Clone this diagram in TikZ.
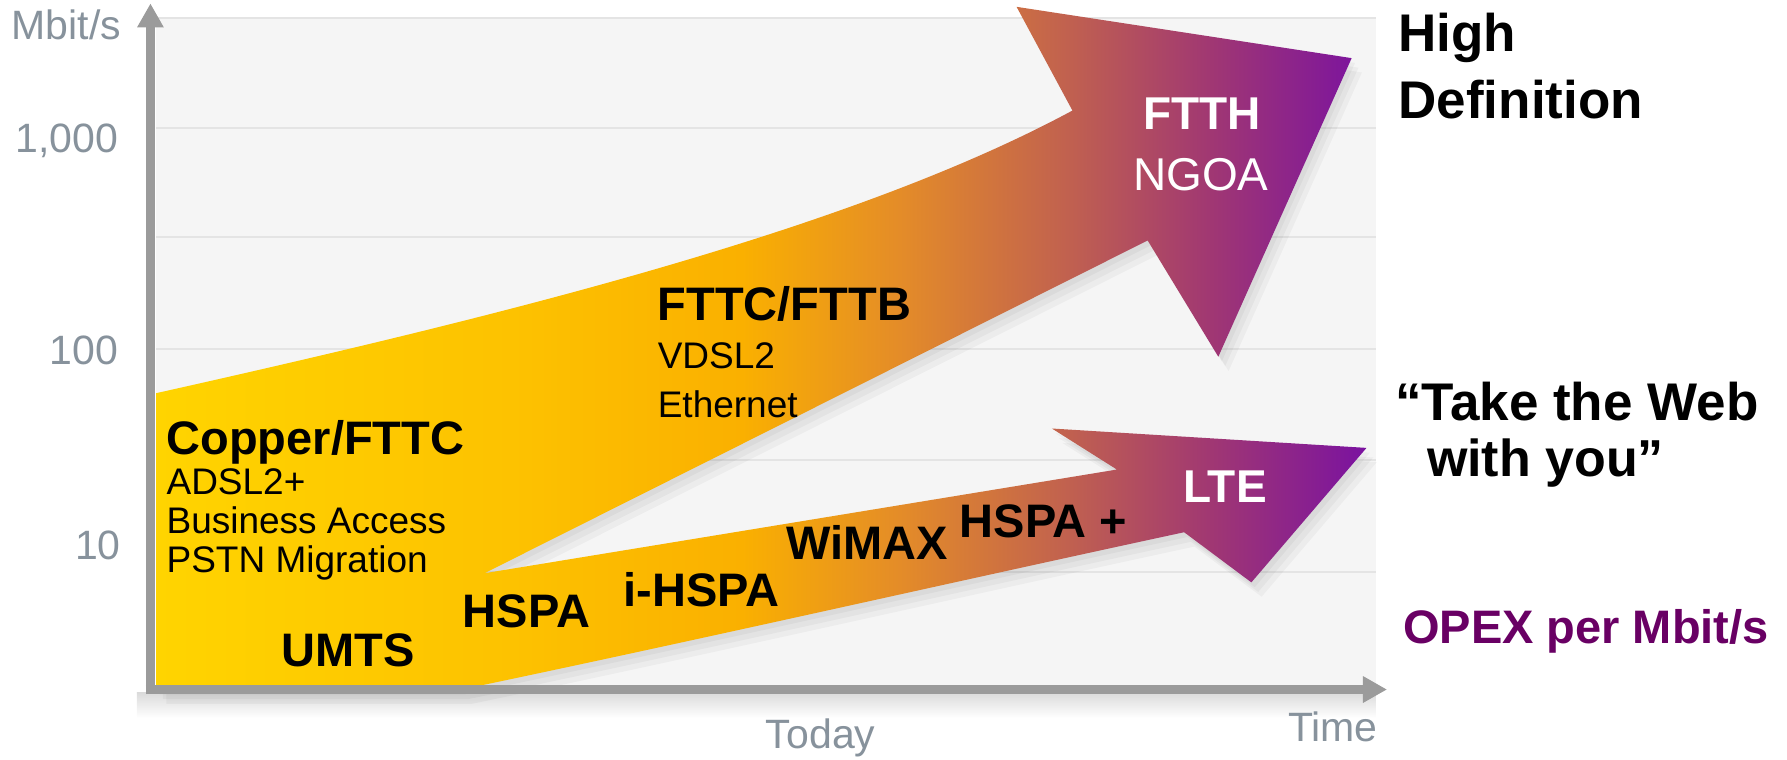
\documentclass[tikz,border=0pt]{standalone}
\usepackage{fontspec}
\setmainfont{Liberation Sans}
\usetikzlibrary{arrows.meta}

\definecolor{axisgray}{RGB}{155,155,155}
\definecolor{labelgray}{RGB}{135,146,156}
\definecolor{opexpurple}{RGB}{105,0,100}
\definecolor{chartbg}{RGB}{245,245,245}
\definecolor{gridgray}{RGB}{228,228,228}

% colour stops of the technology band, left (yellow) to right (purple)
\definecolor{sh0}{RGB}{255,212,0}
\definecolor{sh1}{RGB}{253,194,0}
\definecolor{sh2}{RGB}{250,176,0}
\definecolor{sh3}{RGB}{228,140,40}
\definecolor{sh4}{RGB}{192,96,80}
\definecolor{sh5}{RGB}{160,55,115}
\definecolor{sh6}{RGB}{122,18,160}
\pgfdeclarehorizontalshading{speedband}{100bp}{color(0bp)=(sh0); color(25bp)=(sh0);
  color(39.7bp)=(sh1); color(49.2bp)=(sh2); color(55.7bp)=(sh3);
  color(62.8bp)=(sh4); color(68.6bp)=(sh5); color(75bp)=(sh6); color(100bp)=(sh6)}

% outline of the two growth arrows (fixed line upper, mobile lower)
\def\speedbandpath{(137,345) .. controls (450,275) and (750,200) .. (941,97)
  -- (892,6) -- (1186,51) -- (1069,313) -- (1007,211) -- (425,503)
  -- (980,412) -- (923,376) -- (1199,393) -- (1098,511) -- (1039,467)
  .. controls (830,512) and (620,560) .. (405,605) -- (137,605) -- cycle}

\tikzset{
  axisline/.style={draw=axisgray, line width=8.5pt, -{Triangle[length=24pt,width=25pt]}},
  axislabel/.style={inner sep=0pt, text=labelgray, font=\fontsize{41}{44}\selectfont},
  techbold/.style={inner sep=0pt, font=\bfseries\fontsize{47}{50}\selectfont},
  techplain/.style={inner sep=0pt, font=\fontsize{37}{39}\selectfont},
  headbold/.style={inner sep=0pt, text=white, font=\bfseries\fontsize{46}{49}\selectfont},
  headplain/.style={inner sep=0pt, text=white, font=\fontsize{46}{49}\selectfont},
  sidenote/.style={inner sep=0pt, font=\bfseries\fontsize{53}{56}\selectfont},
}

\begin{document}
\begin{tikzpicture}[x=1.1397pt, y=-1.1397pt]
\useasboundingbox (0,0) rectangle (1568,666);

% chart background with horizontal grid bands
\fill[chartbg] (137,16) rectangle (1207,605);
\draw[gridgray, line width=2pt] (137,16) -- (1207,16);
\foreach \gy in {112,208,306,404,502}
  \draw[gridgray, line width=2pt] (137,\gy) -- (1207,\gy);
\shade[top color=gray!28, bottom color=white] (120,608) rectangle (1207,630);

% soft shadow under the arrows
\foreach \s in {3,6,9}
  \fill[black, opacity=0.035, shift={(\s,1.4*\s)}] \speedbandpath;

% the growth arrows
\shade[shading=speedband] \speedbandpath;

% axes
\coordinate (origin) at (132,605);
\coordinate (ytip) at (132,3);
\coordinate (xtip) at (1217,605);
\draw[axisline] ([yshift=-4.5pt]origin) -- (ytip);
\draw[axisline] ([xshift=-4.5pt]origin) -- (xtip);

% axis labels
\node[axislabel, anchor=base west] (mbit) at (10,35) {Mbit/s};
\node[axislabel, anchor=base east] (t1000) at (104,134) {1,000};
\node[axislabel, anchor=base east] (t100) at (104,320) {100};
\node[axislabel, anchor=base east] (t10) at (106,491) {10};
\node[axislabel, anchor=base] (today) at (720,657) {Today};
\node[axislabel, anchor=base east] (time) at (1209,651) {Time};

% fixed access technologies
\node[techbold, anchor=base west] (copper) at (146,399) {Copper/FTTC};
\node[techplain, anchor=base west] (adsl) at (146,434) {ADSL2+};
\node[techplain, anchor=base west] (business) at (146,468) {Business Access};
\node[techplain, anchor=base west] (pstn) at (146,502) {PSTN Migration};
\node[techbold, anchor=base west] (fttcb) at (577,281) {FTTC/FTTB};
\node[techplain, anchor=base west] (vdsl) at (577,323) {VDSL2};
\node[techplain, anchor=base west] (ether) at (577,366) {Ethernet};
\node[headbold, anchor=base west] (ftth) at (1003,114) {FTTH};
\node[headplain, anchor=base west] (ngoa) at (994,167) {NGOA};

% mobile access technologies
\node[techbold, anchor=base west] (umts) at (247,585) {UMTS};
\node[techbold, anchor=base west] (hspa) at (406,551) {HSPA};
\node[techbold, anchor=base west] (ihspa) at (547,532) {i-HSPA};
\node[techbold, anchor=base west] (wimax) at (690,491) {WiMAX};
\node[techbold, anchor=base west] (hspaplus) at (842,472) {HSPA +};
\node[headbold, anchor=base west] (lte) at (1038,441) {LTE};

% side notes
\node[sidenote, anchor=base west] (high) at (1227,45) {High};
\node[sidenote, anchor=base west] (definition) at (1227,104) {Definition};
\node[sidenote, anchor=base west] (takeweb) at (1224,369) {“Take the Web};
\node[sidenote, anchor=base west, font=\bfseries\fontsize{52}{55}\selectfont] (withyou) at (1252,418) {with you”};
\node[sidenote, anchor=base west, text=opexpurple, font=\bfseries\fontsize{47}{50}\selectfont] (opex) at (1231,565) {OPEX per Mbit/s};
\end{tikzpicture}
\end{document}
